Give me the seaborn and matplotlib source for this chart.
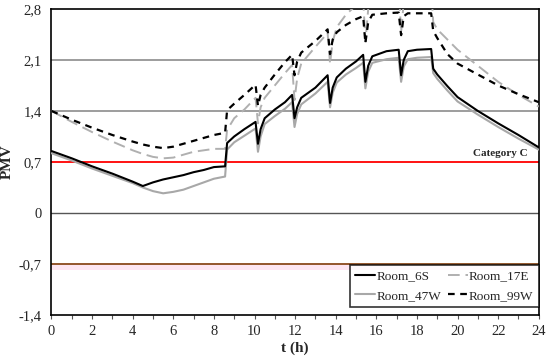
import matplotlib

matplotlib.use("Agg")
import matplotlib.pyplot as plt
import numpy as np
import pandas as pd
import seaborn as sns
from matplotlib.ticker import FixedLocator, MultipleLocator

# Время (ч)
t = [0, 1, 2, 3, 4, 4.5, 5, 5.5, 6, 6.5, 7, 7.5, 8, 8.55, 8.65, 9, 9.5,
     10.05, 10.17, 10.3, 10.5, 11, 11.5, 11.85, 11.97, 12.1, 12.3, 13,
     13.6, 13.72, 13.85, 14.05, 14.5, 15, 15.35, 15.46, 15.6, 15.8, 16.5,
     17.1, 17.22, 17.35, 17.55, 18, 18.7, 18.8, 19, 19.5, 20, 21, 22, 23, 24]

room_6s = [0.85, 0.75, 0.64, 0.54, 0.43, 0.37, 0.42, 0.46, 0.49, 0.52, 0.56, 0.59,
           0.63, 0.64, 0.96, 1.05, 1.15, 1.25, 0.95, 1.15, 1.30, 1.42, 1.52, 1.62,
           1.30, 1.45, 1.58, 1.72, 1.89, 1.51, 1.72, 1.86, 1.98, 2.08, 2.17, 1.80,
           2.02, 2.15, 2.22, 2.24, 1.89, 2.10, 2.22, 2.24, 2.25, 1.98, 1.90, 1.74,
           1.59, 1.40, 1.23, 1.07, 0.90]

room_47w = [0.82, 0.72, 0.61, 0.51, 0.41, 0.35, 0.30, 0.27, 0.29, 0.32, 0.37, 0.42,
            0.47, 0.50, 0.87, 0.97, 1.06, 1.16, 0.84, 1.05, 1.22, 1.33, 1.43, 1.52,
            1.18, 1.36, 1.49, 1.64, 1.80, 1.45, 1.65, 1.79, 1.90, 1.99, 2.06, 1.71,
            1.94, 2.06, 2.11, 2.13, 1.80, 2.01, 2.11, 2.13, 2.14, 1.92, 1.84, 1.68,
            1.53, 1.35, 1.18, 1.02, 0.87]

room_17e = [1.40, 1.25, 1.11, 0.98, 0.86, 0.81, 0.77, 0.75, 0.76, 0.80, 0.84, 0.86,
            0.88, 0.88, 1.14, 1.30, 1.42, 1.58, 1.23, 1.45, 1.58, 1.75, 1.92, 2.03,
            1.55, 1.85, 2.05, 2.28, 2.47, 2.05, 2.35, 2.55, 2.72, 2.85, 2.95, 2.35,
            2.80, 3.00, 3.10, 3.10, 2.48, 2.90, 3.10, 3.10, 3.10, 2.62, 2.52, 2.38,
            2.24, 2.02, 1.80, 1.62, 1.46]

room_99w = [1.40, 1.28, 1.17, 1.07, 0.98, 0.94, 0.91, 0.89, 0.91, 0.95, 0.99, 1.03,
            1.07, 1.10, 1.41, 1.50, 1.62, 1.76, 1.47, 1.62, 1.72, 1.90, 2.07, 2.17,
            1.89, 2.08, 2.20, 2.36, 2.52, 2.18, 2.38, 2.48, 2.58, 2.66, 2.70, 2.33,
            2.62, 2.72, 2.74, 2.75, 2.44, 2.70, 2.74, 2.74, 2.74, 2.50, 2.40, 2.18,
            2.05, 1.90, 1.75, 1.63, 1.52]

y_ticks = [-1.4, -0.7, 0, 0.7, 1.4, 2.1, 2.8]
y_labels = ["-1,4", "-0,7", "0", "0,7", "1,4", "2,1", "2,8"]

sns.set_theme(style="white")
plt.rcParams["font.family"] = ["Liberation Serif", "DejaVu Serif"]

fig = plt.figure(figsize=(5.5, 3.57), dpi=100)
ax = fig.add_axes([0.0936, 0.1176, 0.886, 0.8574])

# Сетка и пороговые линии
for v in [1.4, 2.1]:
    ax.axhline(v, color="#8c8c8c", lw=1.2, zorder=1)
ax.axhline(0, color="#555555", lw=1.0, zorder=1)
ax.axhspan(-0.78, -0.7, color="#fde6f2", lw=0, zorder=0)
ax.axhline(-0.7, color="#8a4a1c", lw=1.3, zorder=1)
ax.axhline(0.7, color="#ff0000", lw=1.3, zorder=1)

sns.lineplot(x=t, y=room_6s, ax=ax, color="black", lw=1.5, label="Room_6S", zorder=4)
sns.lineplot(x=t, y=room_47w, ax=ax, color="#a8a8a8", lw=1.5, label="Room_47W", zorder=3)
sns.lineplot(x=t, y=room_17e, ax=ax, color="#b0b0b0", lw=1.4, dashes=(6, 3),
             label="Room_17E", zorder=3)
sns.lineplot(x=t, y=room_99w, ax=ax, color="black", lw=1.6, dashes=(3, 2.5),
             label="Room_99W", zorder=4)

ax.text(23.45, 0.76, "Category C", ha="right", va="bottom", fontsize=8,
        fontweight="bold")

ax.set_xlim(0, 24)
ax.set_ylim(-1.4, 2.8)
ax.xaxis.set_major_locator(MultipleLocator(2))
ax.xaxis.set_minor_locator(MultipleLocator(1))
ax.yaxis.set_major_locator(FixedLocator(y_ticks))
ax.set_yticklabels(y_labels)
ax.tick_params(axis="x", which="both", direction="out", bottom=True, length=3,
               width=0.8, color="#555555", labelsize=10.5, pad=4)
ax.tick_params(axis="y", left=False, length=0, labelsize=10.5, pad=7)
ax.set_xlabel("t (h)", fontsize=11, fontweight="bold", labelpad=3)
ax.set_ylabel("PMV", fontsize=11, fontweight="bold")
ax.yaxis.set_label_coords(-0.078, 0.5)

for s in ax.spines.values():
    s.set_color("black")
    s.set_linewidth(1.2)

leg = ax.legend(ncol=2, loc="lower right", bbox_to_anchor=(1.0, 0.026),
                fontsize=9.5, frameon=True, fancybox=False, handlelength=1.5,
                handletextpad=0.1, columnspacing=0.5, borderpad=0.4,
                labelspacing=0.55, borderaxespad=0)
leg.get_frame().set_edgecolor("black")
leg.get_frame().set_linewidth(1.2)

fig.savefig("out.png", dpi=100)
